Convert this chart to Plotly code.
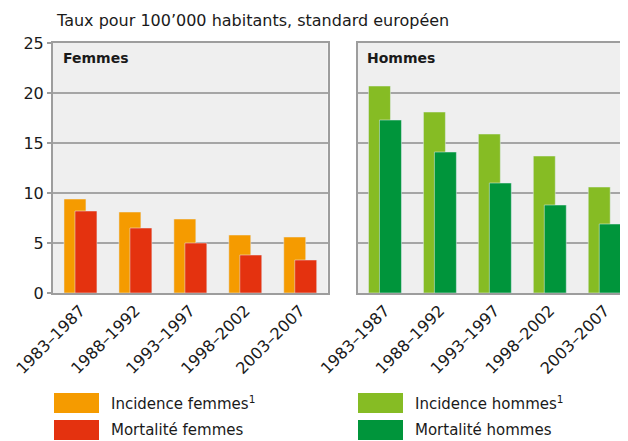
import plotly.graph_objects as go

periods = ["1983–1987", "1988–1992", "1993–1997", "1998–2002", "2003–2007"]
inc_femmes = [9.4, 8.1, 7.4, 5.8, 5.6]
mort_femmes = [8.2, 6.5, 5.0, 3.8, 3.3]
inc_hommes = [20.7, 18.1, 15.9, 13.7, 10.6]
mort_hommes = [17.3, 14.1, 11.0, 8.8, 6.9]
y_ticks = [0, 5, 10, 15, 20, 25]

C_INC_F = "#f59b00"
C_MORT_F = "#e4320f"
C_INC_H = "#86bc24"
C_MORT_H = "#00953b"
GRID = "#a5a5a5"
FRAME = "#9d9d9d"
BG = "#efefef"
TXT = "#1a1a1a"
FONT = "DejaVu Sans"

# page body has an 8px margin; figure is sized so the page is 628x441
OFF = 8
W, H = 628 - OFF, 441 - OFF
def px_x(p):
    return (p - OFF) / W
def px_y(p):
    return 1 - (p - OFF) / H

fig = go.Figure()
fig.add_trace(go.Bar(x=periods, y=inc_femmes, marker_color=C_INC_F, width=0.4, offset=-0.3,
                     xaxis="x", yaxis="y", name="Incidence femmes", hoverinfo="y"))
fig.add_trace(go.Bar(x=periods, y=mort_femmes, marker_color=C_MORT_F, width=0.4, offset=-0.1,
                     xaxis="x", yaxis="y", name="Mortalité femmes", hoverinfo="y"))
fig.add_trace(go.Bar(x=periods, y=inc_hommes, marker_color=C_INC_H, width=0.4, offset=-0.3,
                     xaxis="x2", yaxis="y2", name="Incidence hommes", hoverinfo="y"))
fig.add_trace(go.Bar(x=periods, y=mort_hommes, marker_color=C_MORT_H, width=0.4, offset=-0.1,
                     xaxis="x2", yaxis="y2", name="Mortalité hommes", hoverinfo="y"))

top, bottom = 43, 293
l1, r1 = 53, 327.7
l2, r2 = 357.5, 628
cat_px = (r1 - l1) / 5
ydom = [px_y(bottom), px_y(top)]

xcommon = dict(type="category", showgrid=False, showline=True, linecolor=FRAME, linewidth=2,
               mirror=True, ticks="", tickangle=-45, automargin=False,
               tickfont=dict(family=FONT, size=16, color=TXT), fixedrange=True)
ycommon = dict(range=[0, 25], tickvals=y_ticks, showgrid=True, gridcolor=GRID, gridwidth=1.5,
               showline=True, linecolor=FRAME, linewidth=2, zeroline=False, fixedrange=True,
               automargin=False, ticklen=4, tickcolor=FRAME, tickwidth=1.5)

fig.update_layout(
    width=W, height=H, margin=dict(l=0, r=0, t=0, b=0),
    paper_bgcolor="white", plot_bgcolor=BG, barmode="overlay", showlegend=False,
    font=dict(family=FONT, color=TXT),
    xaxis=dict(**xcommon, domain=[px_x(l1), px_x(r1)], range=[-0.5, 4.5], anchor="y"),
    yaxis=dict(**ycommon, domain=ydom, anchor="x", mirror=True, showticklabels=True, ticks="outside",
               tickfont=dict(family=FONT, size=16, color=TXT)),
    xaxis2=dict(**xcommon, domain=[px_x(l2), 1], range=[-0.5, -0.5 + (r2 - l2) / cat_px], anchor="y2"),
    yaxis2=dict(**ycommon, domain=ydom, anchor="x2", mirror=False, showticklabels=False, ticks=""),
)

annotations = [
    dict(text="Taux pour 100’000 habitants, standard européen", x=px_x(54), y=px_y(20),
         xref="paper", yref="paper", xanchor="left", yanchor="middle", showarrow=False,
         font=dict(family=FONT, size=16, color=TXT)),
    dict(text="<b>Femmes</b>", x=px_x(61), y=px_y(58), xref="paper", yref="paper",
         xanchor="left", yanchor="middle", showarrow=False, font=dict(family=FONT, size=14, color=TXT)),
    dict(text="<b>Hommes</b>", x=px_x(365), y=px_y(58), xref="paper", yref="paper",
         xanchor="left", yanchor="middle", showarrow=False, font=dict(family=FONT, size=14, color=TXT)),
]
legend_items = [
    ("Incidence femmes<sup>1</sup>", C_INC_F, 54, 403),
    ("Mortalité femmes", C_MORT_F, 54, 430),
    ("Incidence hommes<sup>1</sup>", C_INC_H, 358, 403),
    ("Mortalité hommes", C_MORT_H, 358, 430),
]
shapes = []
for label, col, lx, ly in legend_items:
    shapes.append(dict(type="rect", xref="paper", yref="paper", x0=px_x(lx), x1=px_x(lx + 45),
                       y0=px_y(ly + 10), y1=px_y(ly - 10), fillcolor=col, line=dict(width=0)))
    annotations.append(dict(text=label, x=px_x(lx + 55), y=px_y(ly), xref="paper", yref="paper",
                            xanchor="left", yanchor="middle", showarrow=False,
                            font=dict(family=FONT, size=15, color=TXT)))
fig.update_layout(annotations=annotations, shapes=shapes)

fig.write_html("out.html", config={"displayModeBar": False})
